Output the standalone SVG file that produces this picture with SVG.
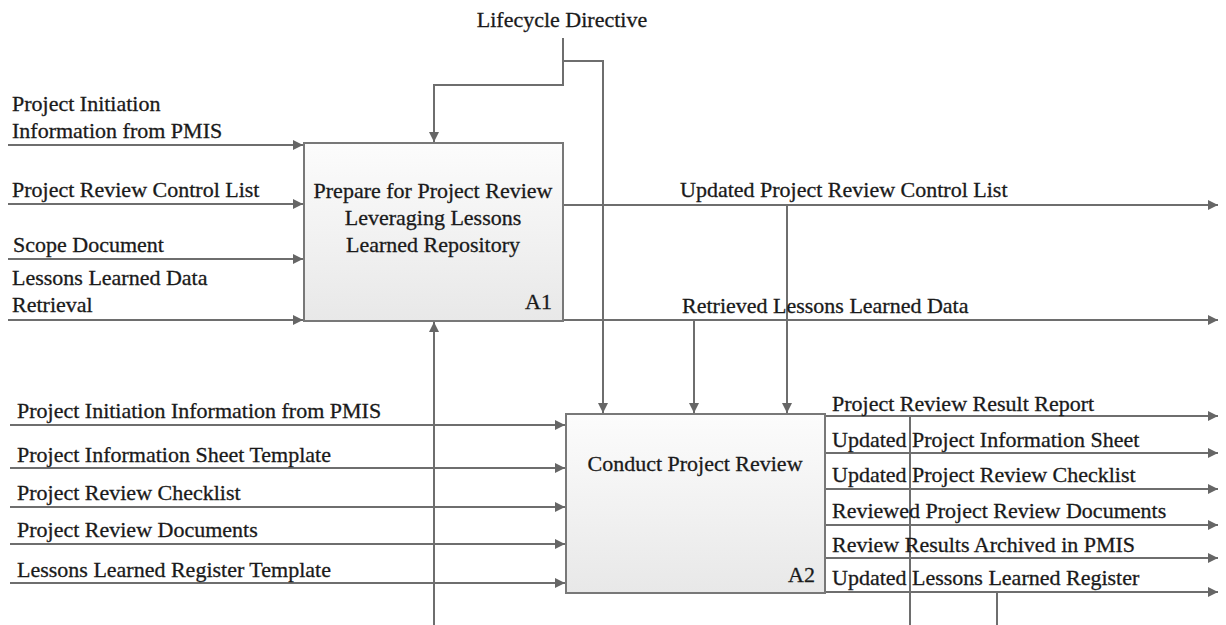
<svg xmlns="http://www.w3.org/2000/svg" width="1226" height="625" viewBox="0 0 1226 625">
  <style>
    text { font-family: "Liberation Serif", "Times New Roman", serif; font-size: 22px; fill: #1a1a1a; stroke: #1a1a1a; stroke-width: 0.3; }
    .box { fill: url(#boxFill); stroke: #787878; stroke-width: 2; }
    .mid { text-anchor: middle; }
    .end { text-anchor: end; }
    .wire { fill: none; stroke: #6e6e6e; stroke-width: 2; }
    .arrow { marker-end: url(#head); }
  </style>
  <defs>
    <linearGradient id="boxFill" x1="0" y1="0" x2="0" y2="1">
      <stop offset="0" stop-color="#fcfcfc"/>
      <stop offset="1" stop-color="#e8e8e8"/>
    </linearGradient>
    <marker id="head" markerUnits="userSpaceOnUse" markerWidth="12" markerHeight="10" refX="10" refY="5" orient="auto">
      <path d="M0,0 L10,5 L0,10 z" fill="#666666"/>
    </marker>
  </defs>

  <!-- connectors -->
  <g id="connectors">
    <!-- control: lifecycle directive -->
    <path class="wire arrow" d="M563,38 V85 H434 V142"/>
    <path class="wire arrow" d="M563,61 H603 V413"/>
    <!-- A1 inputs -->
    <path class="wire arrow" d="M8,145 H303"/>
    <path class="wire arrow" d="M8,204 H303"/>
    <path class="wire arrow" d="M8,259 H303"/>
    <path class="wire arrow" d="M8,320 H303"/>
    <!-- A1 mechanism -->
    <path class="wire arrow" d="M434,625 V322"/>
    <!-- A1 outputs -->
    <path class="wire arrow" d="M563,205 H1218"/>
    <path class="wire arrow" d="M563,320 H1218"/>
    <!-- A1 outputs feeding A2 as controls -->
    <path class="wire arrow" d="M787,205 V413"/>
    <path class="wire arrow" d="M694,320 V413"/>
    <!-- A2 inputs -->
    <path class="wire arrow" d="M10,425 H565"/>
    <path class="wire arrow" d="M10,468 H565"/>
    <path class="wire arrow" d="M10,507 H565"/>
    <path class="wire arrow" d="M10,544 H565"/>
    <path class="wire arrow" d="M10,583 H565"/>
    <!-- A2 outputs -->
    <path class="wire arrow" d="M825,416 H1218"/>
    <path class="wire arrow" d="M825,453 H1218"/>
    <path class="wire arrow" d="M825,489 H1218"/>
    <path class="wire arrow" d="M825,525 H1218"/>
    <path class="wire arrow" d="M825,558 H1218"/>
    <path class="wire arrow" d="M825,592 H1218"/>
    <!-- A2 mechanisms / feedback -->
    <path class="wire" d="M910,416 V625"/>
    <path class="wire" d="M997,592 V625"/>
  </g>

  <!-- connector labels -->
  <g id="labels">
    <text x="562" y="27" class="mid">Lifecycle Directive</text>
    <text x="12" y="111">Project Initiation</text>
    <text x="12" y="138">Information from PMIS</text>
    <text x="12" y="197">Project Review Control List</text>
    <text x="13" y="252">Scope Document</text>
    <text x="12" y="285">Lessons Learned Data</text>
    <text x="12" y="312">Retrieval</text>
    <text x="680" y="197">Updated Project Review Control List</text>
    <text x="682" y="313">Retrieved Lessons Learned Data</text>
    <text x="17" y="418">Project Initiation Information from PMIS</text>
    <text x="17" y="462">Project Information Sheet Template</text>
    <text x="17" y="500">Project Review Checklist</text>
    <text x="17" y="537">Project Review Documents</text>
    <text x="17" y="577">Lessons Learned Register Template</text>
    <text x="832" y="411">Project Review Result Report</text>
    <text x="832" y="447">Updated Project Information Sheet</text>
    <text x="832" y="482">Updated Project Review Checklist</text>
    <text x="832" y="518">Reviewed Project Review Documents</text>
    <text x="832" y="552">Review Results Archived in PMIS</text>
    <text x="832" y="585">Updated Lessons Learned Register</text>
  </g>

  <!-- activity A1 -->
  <g id="A1">
    <rect class="box" x="304" y="143" width="259" height="178"/>
    <text x="433" y="198" class="mid">Prepare for Project Review</text>
    <text x="433" y="225" class="mid">Leveraging Lessons</text>
    <text x="433" y="252" class="mid">Learned Repository</text>
    <text x="552" y="309" class="end">A1</text>
  </g>

  <!-- activity A2 -->
  <g id="A2">
    <rect class="box" x="566" y="414" width="259" height="179"/>
    <text x="695" y="471" class="mid">Conduct Project Review</text>
    <text x="815" y="582" class="end">A2</text>
  </g>
</svg>
